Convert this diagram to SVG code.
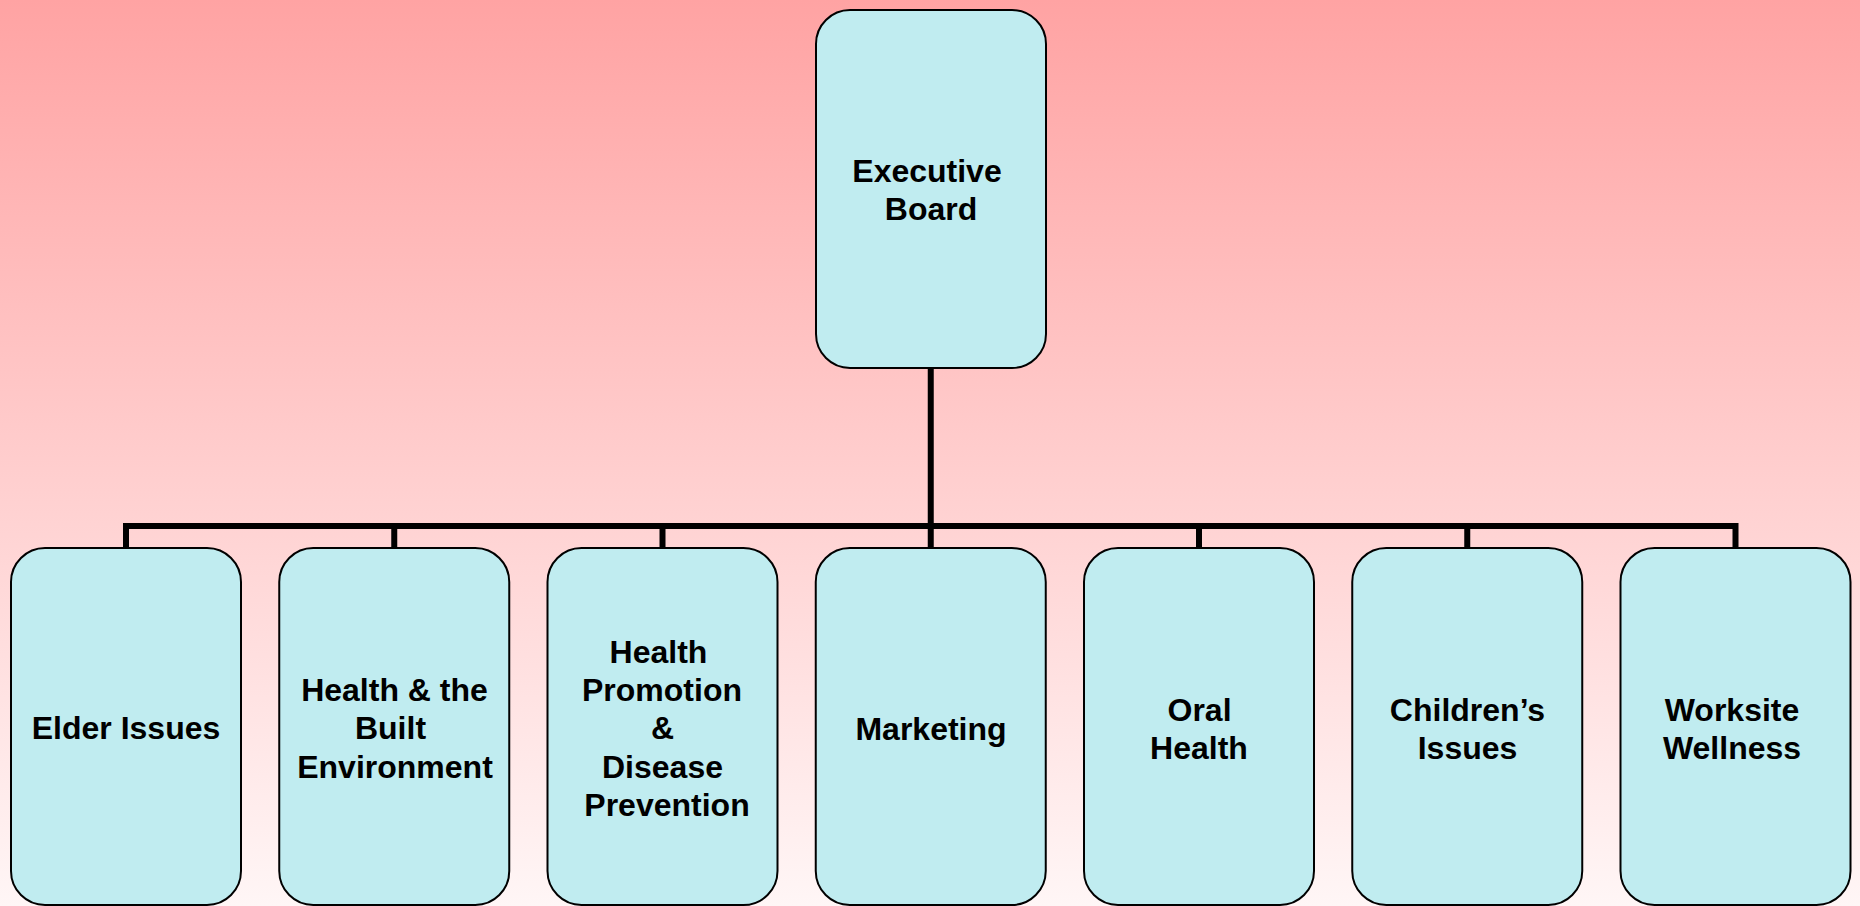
<svg xmlns="http://www.w3.org/2000/svg" width="1860" height="906" viewBox="0 0 1860 906">
<defs>
<linearGradient id="bg" x1="0" y1="0" x2="0" y2="1">
<stop offset="0" stop-color="#FFA3A3"/>
<stop offset="1" stop-color="#FFF6F6"/>
</linearGradient>
</defs>
<style>
.box{fill:#C0ECF0;stroke:#000;stroke-width:2}
.lbl{font-family:"Liberation Sans",Arial,sans-serif;font-weight:bold;font-size:32px;fill:#000;text-anchor:middle}
.con{fill:none;stroke:#000;stroke-width:6}
</style>
<rect x="0" y="0" width="1860" height="906" fill="url(#bg)"/>
<g id="connectors">
<path class="con" d="M930.75 368 V526"/>
<path class="con" d="M126 548 V526 H1735.5 V548"/>
<path class="con" d="M394.25 526 V548 M662.5 526 V548 M930.75 526 V548 M1199 526 V548 M1467.25 526 V548"/>
</g>
<g id="executive-board">
<rect class="box" x="816" y="10" width="230" height="358" rx="34"/>
<text class="lbl" x="927" y="182">Executive</text>
<text class="lbl" x="931" y="220">Board</text>
</g>
<g id="elder-issues">
<rect class="box" x="11" y="548" width="230" height="357" rx="34"/>
<text class="lbl" x="126" y="739">Elder Issues</text>
</g>
<g id="health-built-environment">
<rect class="box" x="279.25" y="548" width="230" height="357" rx="34"/>
<text class="lbl" x="394.5" y="701">Health &amp; the</text>
<text class="lbl" x="390.5" y="739">Built</text>
<text class="lbl" x="395" y="777.5">Environment</text>
</g>
<g id="health-promotion">
<rect class="box" x="547.5" y="548" width="230" height="357" rx="34"/>
<text class="lbl" x="658.5" y="662.5">Health</text>
<text class="lbl" x="662" y="701">Promotion</text>
<text class="lbl" x="662.5" y="739">&amp;</text>
<text class="lbl" x="662.5" y="777.5">Disease</text>
<text class="lbl" x="667" y="816">Prevention</text>
</g>
<g id="marketing">
<rect class="box" x="815.75" y="548" width="230" height="357" rx="34"/>
<text class="lbl" x="931" y="739.5">Marketing</text>
</g>
<g id="oral-health">
<rect class="box" x="1084" y="548" width="230" height="357" rx="34"/>
<text class="lbl" x="1199.5" y="720.5">Oral</text>
<text class="lbl" x="1199" y="758.5">Health</text>
</g>
<g id="childrens-issues">
<rect class="box" x="1352.25" y="548" width="230" height="357" rx="34"/>
<text class="lbl" x="1467.5" y="720.5">Children’s</text>
<text class="lbl" x="1467.5" y="758.5">Issues</text>
</g>
<g id="worksite-wellness">
<rect class="box" x="1620.5" y="548" width="230" height="357" rx="34"/>
<text class="lbl" x="1732" y="720.5">Worksite</text>
<text class="lbl" x="1732" y="758.5">Wellness</text>
</g>
</svg>
